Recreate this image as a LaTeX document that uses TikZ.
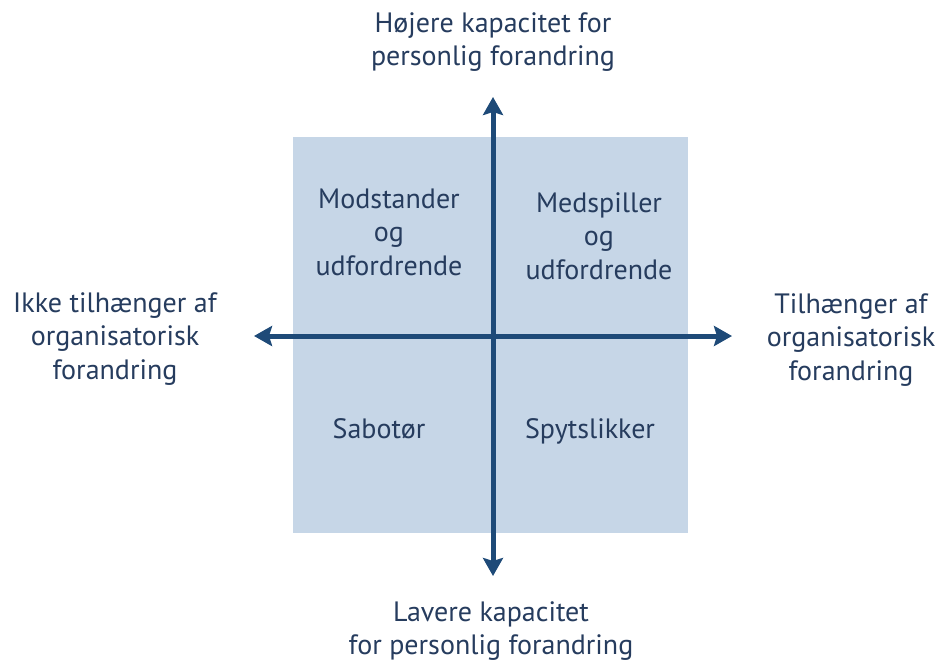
\documentclass[tikz,border=0pt]{standalone}
\usepackage{fontspec}
\setmainfont{PT Sans}
\usetikzlibrary{arrows.meta}
\definecolor{sqfill}{HTML}{C6D6E7}
\definecolor{axiscol}{HTML}{1E4A78}
\definecolor{txtcol}{HTML}{263C5E}
\begin{document}
\begin{tikzpicture}[x=1pt,y=-1pt,
  axis/.style={line width=5pt,color=axiscol,
    {Stealth[length=18pt,width=20pt,inset=3pt]}-{Stealth[length=18pt,width=20pt,inset=3pt]}},
  lbl/.style={anchor=north,inner sep=0pt,align=center,text=txtcol,
    font=\fontsize{28}{33.5}\selectfont}]
\useasboundingbox (0,0) rectangle (944,661);
\fill[white] (0,0) rectangle (944,661);
\node[fill=sqfill,minimum width=395pt,minimum height=396pt,inner sep=0pt] (sq) at (490.5,335) {};
\coordinate (top) at (493,97);
\coordinate (bot) at (493,576);
\coordinate (lft) at (254,336);
\coordinate (rgt) at (732,336);
\draw[axis] (top) -- (bot);
\draw[axis] (lft) -- (rgt);
\node[lbl] (ttop) at (493,{32-23.45}) {\strut Højere kapacitet for\\personlig forandring};
\node[lbl] (tbot) at (491,{621-23.45}) {\strut Lavere kapacitet\\for personlig forandring};
\node[lbl] (tlft) at (115,{312-23.45}) {\strut Ikke tilhænger af\\organisatorisk\\forandring};
\node[lbl] (trgt) at (851,{313-23.45}) {\strut Tilhænger af\\organisatorisk\\forandring};
\node[lbl] (qtl) at (389,{208-23.45}) {\strut Modstander\\og\\udfordrende};
\node[lbl] (qtr) at (599,{212-23.45}) {\strut Medspiller\\og\\udfordrende};
\node[lbl] (qbl) at (379,{438-23.45}) {\strut Sabotør};
\node[lbl] (qbr) at (590,{438-23.45}) {\strut Spytslikker};
\end{tikzpicture}
\end{document}
